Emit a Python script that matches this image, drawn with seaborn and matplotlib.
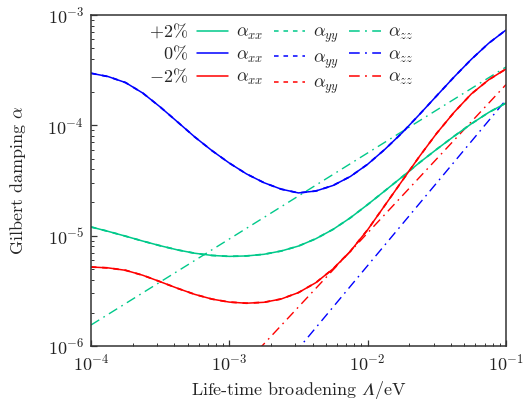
import numpy as np
import pandas as pd
import matplotlib
matplotlib.use("Agg")
import matplotlib.pyplot as plt
import seaborn as sns
from matplotlib.lines import Line2D

sns.set_theme(style="white")
plt.rcParams["font.family"] = ["cmr10"]
plt.rcParams["mathtext.fontset"] = "cm"
plt.rcParams["axes.formatter.use_mathtext"] = True
plt.rcParams["axes.unicode_minus"] = True

# ---- data: life-time broadening (eV), 8 points per decade ----
broadening = [1.00e-4, 1.33e-4, 1.78e-4, 2.37e-4, 3.16e-4, 4.22e-4, 5.62e-4, 7.50e-4,
              1.00e-3, 1.33e-3, 1.78e-3, 2.37e-3, 3.16e-3, 4.22e-3, 5.62e-3, 7.50e-3,
              1.00e-2, 1.33e-2, 1.78e-2, 2.37e-2, 3.16e-2, 4.22e-2, 5.62e-2, 7.50e-2, 1.00e-1]

# +2 % strain
p2_xx = [1.199e-5, 1.094e-5, 9.89e-6, 8.93e-6, 8.11e-6, 7.43e-6, 6.93e-6, 6.62e-6,
         6.49e-6, 6.55e-6, 6.78e-6, 7.26e-6, 8.05e-6, 9.38e-6, 1.140e-5, 1.452e-5,
         1.914e-5, 2.547e-5, 3.420e-5, 4.592e-5, 6.08e-5, 7.98e-5, 1.033e-4, 1.309e-4, 1.592e-4]
p2_yy = [1.199e-5, 1.094e-5, 9.89e-6, 8.93e-6, 8.11e-6, 7.43e-6, 6.93e-6, 6.62e-6,
         6.49e-6, 6.55e-6, 6.78e-6, 7.26e-6, 8.05e-6, 9.38e-6, 1.140e-5, 1.452e-5,
         1.914e-5, 2.547e-5, 3.420e-5, 4.592e-5, 6.08e-5, 7.98e-5, 1.033e-4, 1.309e-4, 1.592e-4]
p2_zz_x = [1.0e-4, 1.0e-3, 1.0e-2, 1.0e-1]
p2_zz = [1.55e-6, 9.33e-6, 5.62e-5, 3.38e-4]

# 0 % strain
n0_xx = [2.965e-4, 2.767e-4, 2.438e-4, 1.959e-4, 1.469e-4, 1.074e-4, 7.85e-5, 5.89e-5,
         4.55e-5, 3.63e-5, 3.02e-5, 2.64e-5, 2.44e-5, 2.54e-5, 2.85e-5, 3.44e-5,
         4.44e-5, 6.05e-5, 8.59e-5, 1.256e-4, 1.858e-4, 2.748e-4, 3.97e-4, 5.55e-4, 7.31e-4]
n0_yy = [2.965e-4, 2.767e-4, 2.438e-4, 1.959e-4, 1.469e-4, 1.074e-4, 7.85e-5, 5.89e-5,
         4.55e-5, 3.63e-5, 3.02e-5, 2.64e-5, 2.44e-5, 2.54e-5, 2.85e-5, 3.44e-5,
         4.44e-5, 6.05e-5, 8.59e-5, 1.256e-4, 1.858e-4, 2.748e-4, 3.97e-4, 5.55e-4, 7.31e-4]
n0_zz_x = [1.0e-3, 1.0e-2, 1.0e-1]
n0_zz = [1.68e-7, 5.36e-6, 1.70e-4]

# -2 % strain
m2_xx = [5.20e-6, 5.105e-6, 4.853e-6, 4.375e-6, 3.828e-6, 3.334e-6, 2.938e-6, 2.661e-6,
         2.500e-6, 2.443e-6, 2.489e-6, 2.667e-6, 3.048e-6, 3.750e-6, 5.000e-6, 7.228e-6,
         1.132e-5, 1.879e-5, 3.155e-5, 5.236e-5, 8.49e-5, 1.315e-4, 1.928e-4, 2.588e-4, 3.243e-4]
m2_yy = [5.20e-6, 5.105e-6, 4.853e-6, 4.375e-6, 3.828e-6, 3.334e-6, 2.938e-6, 2.661e-6,
         2.500e-6, 2.443e-6, 2.489e-6, 2.667e-6, 3.048e-6, 3.750e-6, 5.000e-6, 7.228e-6,
         1.132e-5, 1.879e-5, 3.155e-5, 5.236e-5, 8.49e-5, 1.315e-4, 1.928e-4, 2.588e-4, 3.243e-4]
m2_zz_x = [1.0e-3, 1.0e-2, 1.0e-1]
m2_zz = [4.82e-7, 1.06e-5, 2.34e-4]

row_labels = [r"$+2\%$", r"$0\%$", r"$-2\%$"]
comp_labels = [r"$\alpha_{xx}$", r"$\alpha_{yy}$", r"$\alpha_{zz}$"]

green, blue, red = "#00c98a", "#0000ff", "#ff0000"
DASH = (0, (3.0, 3.2))
DASHDOT = (0, (7.0, 3.5, 1.2, 3.5))

fig = plt.figure(figsize=(5.27, 4.01), dpi=100)
ax = fig.add_axes([91 / 527, 55 / 401, 415 / 527, 331 / 401])
ax.set_xscale("log")
ax.set_yscale("log")


def draw(x, y, color, ls, lw):
    df = pd.DataFrame({"broadening": x, "damping": y})
    sns.lineplot(data=df, x="broadening", y="damping", ax=ax, color=color, linestyle=ls,
                 linewidth=lw, estimator=None, sort=False)


for x, y, c in [(p2_zz_x, p2_zz, green), (n0_zz_x, n0_zz, blue), (m2_zz_x, m2_zz, red)]:
    draw(x, y, c, DASHDOT, 1.0)
for y, c in [(p2_xx, green), (n0_xx, blue), (m2_xx, red)]:
    draw(broadening, y, c, "-", 1.1)
for y, c in [(p2_yy, green), (n0_yy, blue), (m2_yy, red)]:
    draw(broadening, y, c, DASH, 1.3)

ax.set_xlim(1e-4, 1e-1)
ax.set_ylim(1e-6, 1e-3)
ax.set_xlabel("Life-time broadening $\U0001D6EC$/eV", fontsize=13, labelpad=4)
ax.set_ylabel(r"Gilbert damping $\alpha$", fontsize=13, labelpad=14)

for s in ax.spines.values():
    s.set_visible(True)
    s.set_color("#333333")
    s.set_linewidth(1.1)
ax.tick_params(which="both", direction="in", left=True, bottom=True, top=False, right=False,
               colors="#333333", labelcolor="#222222", labelsize=13)
ax.tick_params(axis="y", which="major", pad=5)
ax.tick_params(axis="x", which="major", pad=5)
ax.tick_params(which="major", length=4.5, width=0.9)
ax.tick_params(which="minor", length=2.5, width=0.7)
ax.xaxis.set_major_locator(matplotlib.ticker.LogLocator(base=10, numticks=10))
ax.xaxis.set_minor_locator(matplotlib.ticker.LogLocator(base=10, subs=np.arange(2, 10), numticks=20))
ax.yaxis.set_minor_locator(matplotlib.ticker.LogLocator(base=10, subs=np.arange(2, 10), numticks=20))
ax.grid(False)

handles, labels = [], []
for comp, ls in zip(comp_labels, ["-", DASH, DASHDOT]):
    for c in [green, blue, red]:
        handles.append(Line2D([], [], color=c, linestyle=ls, linewidth=1.1))
        labels.append(comp)
leg = ax.legend(handles, labels, ncol=3, loc="upper left", bbox_to_anchor=(0.255, 0.972),
                frameon=False, fontsize=13, handlelength=1.75, handletextpad=0.4,
                columnspacing=0.6, labelspacing=0.27, borderpad=0, borderaxespad=0)

# row labels aligned on the baselines of the legend rows
fig.canvas.draw()
for lab, t in zip(row_labels, leg.get_texts()[:3]):
    disp = t.get_transform().transform(t.get_position())
    _, yfrac = ax.transAxes.inverted().transform(disp)
    ax.text(0.234, yfrac, lab, transform=ax.transAxes, ha="right", va="baseline", fontsize=13)

fig.savefig("out.png", dpi=100)
